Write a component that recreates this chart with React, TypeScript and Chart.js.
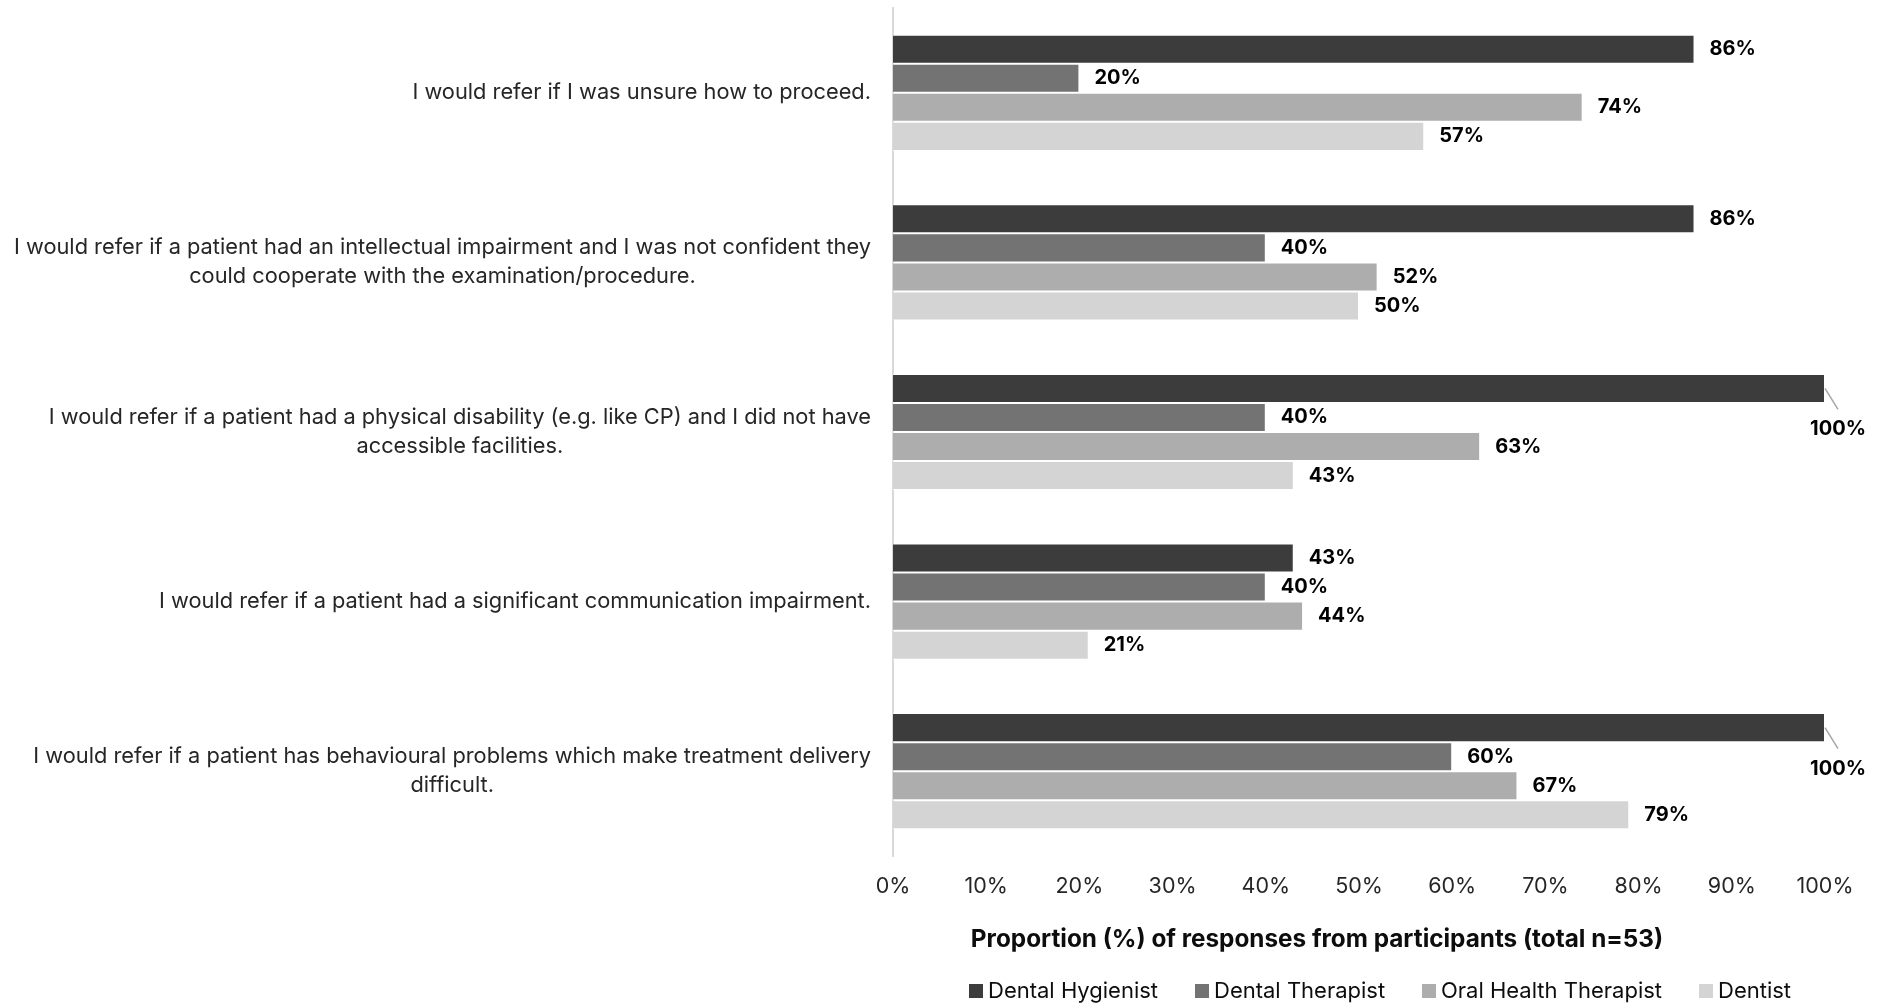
import React, { useEffect, useRef } from "react";
import { Chart, registerables } from "chart.js";

Chart.register(...registerables);

const categories: string[][] = [
  ["I would refer if I was unsure how to proceed."],
  [
    "I would refer if a patient had an intellectual impairment and I was not confident they",
    "could cooperate with the examination/procedure.",
  ],
  [
    "I would refer if a patient had a physical disability (e.g. like CP) and I did not have",
    "accessible facilities.",
  ],
  ["I would refer if a patient had a significant communication impairment."],
  [
    "I would refer if a patient has behavioural problems which make treatment delivery",
    "difficult.",
  ],
];

const seriesNames = ["Dental Hygienist", "Dental Therapist", "Oral Health Therapist", "Dentist"];
const dentalHygienist = [86, 86, 100, 43, 100];
const dentalTherapist = [20, 40, 40, 40, 60];
const oralHealthTherapist = [74, 52, 63, 44, 67];
const dentist = [57, 50, 43, 21, 79];
const seriesColors = ["#3c3c3c", "#737373", "#adadad", "#d4d4d4"];
const xTicks = [0, 10, 20, 30, 40, 50, 60, 70, 80, 90, 100];
const axisTitle = "Proportion (%) of responses from participants (total n=53)";

const FONT = "Inter, 'Open Sans', sans-serif";

export default function App() {
  const ref = useRef<HTMLCanvasElement | null>(null);

  useEffect(() => {
    if (!ref.current) return;
    const values = [dentalHygienist, dentalTherapist, oralHealthTherapist, dentist];

    const overlay = {
      id: "overlay",
      afterDraw(chart: any) {
        const ctx = chart.ctx as CanvasRenderingContext2D;
        const yScale = chart.scales.y;
        ctx.save();
        // category labels
        ctx.font = `21.8px ${FONT}`;
        ctx.fillStyle = "#262626";
        ctx.textBaseline = "middle";
        const rightEdge = 871;
        const lineH = 29;
        categories.forEach((lines, i) => {
          const cy = yScale.getPixelForValue(i);
          if (lines.length === 1) {
            ctx.textAlign = "right";
            ctx.fillText(lines[0], rightEdge, cy);
          } else {
            const maxW = Math.max(...lines.map((l) => ctx.measureText(l).width));
            const cx = rightEdge - maxW / 2;
            ctx.textAlign = "center";
            const startY = cy - ((lines.length - 1) * lineH) / 2;
            lines.forEach((l, k) => ctx.fillText(l, cx, startY + k * lineH));
          }
        });

        // data labels
        ctx.font = `bold 20px ${FONT}`;
        ctx.fillStyle = "#000000";
        values.forEach((arr, d) => {
          const meta = chart.getDatasetMeta(d);
          meta.data.forEach((bar: any, i: number) => {
            const v = arr[i];
            const txt = `${v}%`;
            if (v >= 100) {
              ctx.strokeStyle = "#a6a6a6";
              ctx.lineWidth = 1.5;
              ctx.beginPath();
              ctx.moveTo(bar.x, bar.y);
              ctx.lineTo(bar.x + 13, bar.y + 21);
              ctx.stroke();
              ctx.textAlign = "center";
              ctx.fillText(txt, bar.x + 13, bar.y + 41);
            } else {
              ctx.textAlign = "left";
              ctx.fillText(txt, bar.x + 15, bar.y);
            }
          });
        });

        // axis title
        ctx.font = `bold 24.3px ${FONT}`;
        ctx.fillStyle = "#0d0d0d";
        ctx.textAlign = "center";
        ctx.fillText(axisTitle, 1317, 940);

        // legend
        const boxX = [969, 1195, 1422, 1699];
        const legendY = 991;
        ctx.font = `22px ${FONT}`;
        ctx.textAlign = "left";
        seriesNames.forEach((name, k) => {
          ctx.fillStyle = seriesColors[k];
          ctx.fillRect(boxX[k], legendY - 7, 14, 14);
          ctx.fillStyle = "#0d0d0d";
          ctx.fillText(name, boxX[k] + 19, legendY);
        });
        ctx.restore();
      },
    };

    const chart = new Chart(ref.current, {
      type: "bar",
      data: {
        labels: categories.map((c) => c.join(" ")),
        datasets: values.map((arr, k) => ({
          label: seriesNames[k],
          data: arr,
          backgroundColor: seriesColors[k],
          borderColor: "rgba(255,255,255,0.7)",
          borderWidth: 1,
          categoryPercentage: 0.685,
          barPercentage: 1,
        })),
      },
      options: {
        indexAxis: "y",
        responsive: false,
        animation: false,
        layout: { padding: { left: 0, top: 8, right: 64, bottom: 0 } },
        plugins: {
          legend: { display: false },
          tooltip: { enabled: false },
        },
        scales: {
          x: {
            min: 0,
            max: 100,
            afterFit: (s: any) => {
              s.height = 147;
            },
            afterBuildTicks: (s: any) => {
              s.ticks = xTicks.map((v) => ({ value: v }));
            },
            grid: { display: false, drawTicks: false },
            border: { display: false },
            ticks: {
              padding: 18,
              color: "#262626",
              font: { family: FONT, size: 21.5 },
              callback: (v: any) => `${v}%`,
            },
          },
          y: {
            afterFit: (s: any) => {
              s.width = 893;
            },
            grid: { display: false, drawTicks: false },
            border: { display: true, color: "#d9d9d9", width: 2 },
            ticks: { display: false },
          },
        },
      },
      plugins: [overlay],
    });
    return () => chart.destroy();
  }, []);

  return (
    <canvas
      ref={ref}
      width={1889}
      height={1003}
      style={{ position: "fixed", left: 0, top: 0, width: 1889, height: 1003 }}
    />
  );
}
